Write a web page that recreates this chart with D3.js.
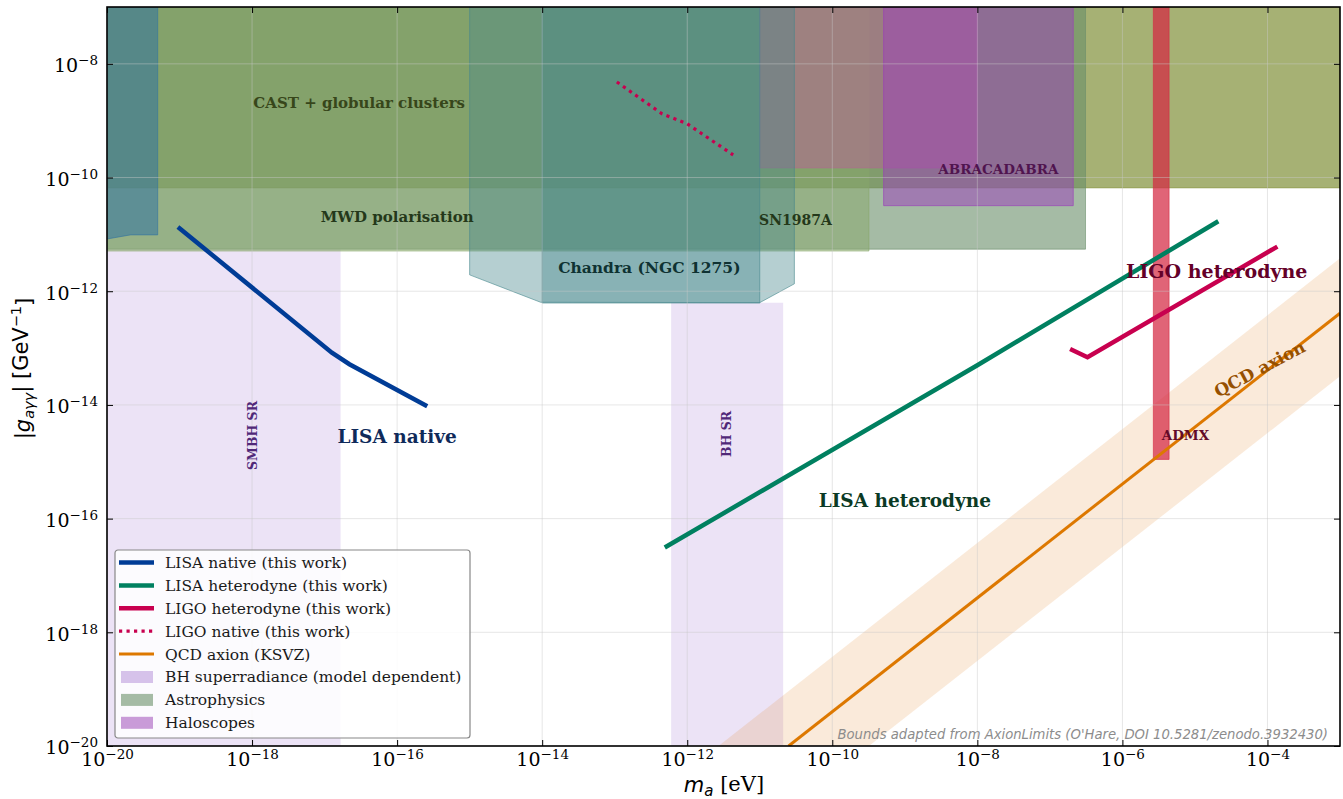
<!DOCTYPE html>
<html>
<head>
<meta charset="utf-8">
<script src="https://cdn.jsdelivr.net/npm/d3@7"></script>
<style>
  body { margin: 0; background: #fff; }
  svg { display: block; }
  .axis text { font-family: 'DejaVu Serif', serif; font-size: 19px; fill: #000; }
  .axis line { stroke: #000; }
  .axis-title { font-family: 'DejaVu Sans', sans-serif; font-size: 21px; fill: #000; }
  .note { font-family: 'DejaVu Serif', serif; font-weight: bold; }
  .legend-text { font-family: 'DejaVu Serif', serif; font-size: 15.5px; fill: #1a1a1a; }
  .credit { font-family: 'DejaVu Sans', sans-serif; font-style: italic; font-size: 13.2px; fill: #8c8c8c; }
</style>
</head>
<body>
<svg id="chart"></svg>
<script>
// x: axion mass m_a [eV], y: coupling |g_agg| [GeV^-1]
const xTicks = [1e-20, 1e-18, 1e-16, 1e-14, 1e-12, 1e-10, 1e-8, 1e-6, 1e-4]
const yTicks = [1e-20, 1e-18, 1e-16, 1e-14, 1e-12, 1e-10, 1e-8]

// projected reach (this work), [m, g]
const lisaNative = [[9.5e-20, 1.35e-11], [1.26e-17, 8.3e-14], [2.2e-17, 5.2e-14], [2.6e-16, 9.5e-15]]
const lisaHeterodyne = [[4.9e-13, 3.1e-17], [1e-8, 5e-14], [2.1e-5, 1.7e-11]]
const ligoHeterodyne = [[1.9e-7, 9.6e-14], [3.3e-7, 6.9e-14], [1.37e-4, 6.1e-12]]
const ligoNative = [[1.07e-13, 4.8e-9], [4.5e-13, 1.32e-9], [1e-12, 8.8e-10], [4.3e-12, 2.5e-10]]

// QCD axion (KSVZ) line and band edges
const qcdLine = [[2.5e-11, 1e-20], [1e-3, 4.1e-13]]
const qcdBandUpper = [[2.7e-12, 1e-20], [1e-3, 3.8e-12]]
const qcdBandLower = [[3.2e-10, 1e-20], [1e-3, 3.2e-14]]

// existing bounds, corners as [m, g]
const smbhSR = [[1e-20, 1e-20], [1.66e-17, 1e-20], [1.66e-17, 5.4e-12], [1e-20, 5.4e-12]]
const bhSR = [[6e-13, 1e-20], [2.1e-11, 1e-20], [2.1e-11, 6.3e-13], [6e-13, 6.3e-13]]
const castHB = [[1e-20, 6.6e-11], [1e-3, 6.6e-11], [1e-3, 1e-7], [1e-20, 1e-7]]
const mwdPolarisation = [[1e-20, 5.5e-12], [3.1e-7, 5.5e-12], [3.1e-7, 1e-7], [1e-20, 1e-7]]
const sn1987a = [[1e-20, 5.1e-12], [3.2e-10, 5.1e-12], [3.2e-10, 1e-7], [1e-20, 1e-7]]
const haloscopeBox = [[1e-11, 1.48e-10], [1e-8, 1.48e-10], [1e-8, 1e-7], [1e-11, 1e-7]]
const chandraWide = [[1e-15, 1e-7], [1e-15, 1.94e-12], [9.5e-15, 6.4e-13], [1e-11, 6.3e-13], [3e-11, 1.35e-12], [3e-11, 1e-7]]
const chandraNGC1275 = [[1e-14, 6.2e-13], [1e-11, 6.2e-13], [1e-11, 1e-7], [1e-14, 1e-7]]
const lowMassStrip = [[1e-20, 8.3e-12], [2.1e-20, 9.8e-12], [5e-20, 9.8e-12], [5e-20, 1e-7], [1e-20, 1e-7]]
const abracadabra = [[5.1e-10, 3.2e-11], [2.1e-7, 3.2e-11], [2.1e-7, 1e-7], [5.1e-10, 1e-7]]
const admx = [[2.67e-6, 1.1e-15], [4.4e-6, 1.1e-15], [4.4e-6, 1e-7], [2.67e-6, 1e-7]]

const legendLabels = ['LISA native (this work)', 'LISA heterodyne (this work)', 'LIGO heterodyne (this work)',
  'LIGO native (this work)', 'QCD axion (KSVZ)', 'BH superradiance (model dependent)', 'Astrophysics', 'Haloscopes']

class AxionPlot {

  constructor(_config) {
    this.config = {
      parentElement: _config.parentElement,
      containerWidth: _config.containerWidth || 1343,
      containerHeight: _config.containerHeight || 799,
      margin: _config.margin || {top: 7, right: 3, bottom: 53, left: 107}
    }
    this.initVis()
  }

  initVis() {
    let vis = this

    vis.width = vis.config.containerWidth - vis.config.margin.left - vis.config.margin.right
    vis.height = vis.config.containerHeight - vis.config.margin.top - vis.config.margin.bottom

    vis.xScale = d3.scaleLog()
      .domain([1e-20, 1e-3])
      .range([0, vis.width])

    vis.yScale = d3.scaleLog()
      .domain([1e-20, 1e-7])
      .range([vis.height, 0])

    vis.line = d3.line()
      .x(d => vis.xScale(d[0]))
      .y(d => vis.yScale(d[1]))

    vis.svg = d3.select(vis.config.parentElement)
      .attr('width', vis.config.containerWidth)
      .attr('height', vis.config.containerHeight)

    vis.chart = vis.svg.append('g')
      .attr('transform', `translate(${vis.config.margin.left},${vis.config.margin.top})`)

    vis.chart.append('clipPath')
      .attr('id', 'plot-clip')
      .append('rect')
      .attr('width', vis.width)
      .attr('height', vis.height)

    vis.regionG = vis.chart.append('g').attr('clip-path', 'url(#plot-clip)')
    vis.gridG = vis.chart.append('g')
    vis.lineG = vis.chart.append('g').attr('clip-path', 'url(#plot-clip)')
    vis.noteG = vis.chart.append('g')

    vis.xAxisG = vis.chart.append('g').attr('class', 'axis x-axis')
      .attr('transform', `translate(0,${vis.height})`)
    vis.yAxisG = vis.chart.append('g').attr('class', 'axis y-axis')
    vis.topAxisG = vis.chart.append('g').attr('class', 'axis')
    vis.rightAxisG = vis.chart.append('g').attr('class', 'axis')
      .attr('transform', `translate(${vis.width},0)`)
  }

  renderVis() {
    let vis = this

    // draw order matters, the fills are see-through
    const regions = [
      {pts: smbhSR, fill: '#c8aee6', op: 0.35, edge: false},
      {pts: bhSR, fill: '#c8aee6', op: 0.35, edge: false},
      {pts: qcdBandUpper.concat(qcdBandLower.slice().reverse()), fill: '#e68c32', op: 0.18, edge: false},
      {pts: castHB, fill: '#6b7d17', op: 0.6, edge: true},
      {pts: mwdPolarisation, fill: '#698e69', op: 0.6, edge: true},
      {pts: sn1987a, fill: '#87a769', op: 0.5, edge: true},
      {pts: haloscopeBox, fill: '#b86096', op: 0.5, edge: true},
      {pts: chandraWide, fill: '#46878c', op: 0.4, edge: true},
      {pts: chandraNGC1275, fill: '#46878c', op: 0.4, edge: true},
      {pts: lowMassStrip, fill: '#3273a0', op: 0.55, edge: true},
      {pts: abracadabra, fill: '#9b3dbb', op: 0.5, edge: true},
      {pts: admx, fill: '#d42843', op: 0.72, edge: true}
    ]

    vis.regionG.selectAll('.region')
      .data(regions)
      .join('path')
        .attr('class', 'region')
        .attr('d', d => vis.line(d.pts) + 'Z')
        .attr('fill', d => d.fill)
        .attr('fill-opacity', d => d.op)
        .attr('stroke', d => d.edge ? d.fill : 'none')
        .attr('stroke-opacity', 0.6)
        .attr('stroke-width', 1)

    // grid sits above the fills
    vis.gridG.selectAll('.vgrid')
      .data(xTicks)
      .join('line')
        .attr('class', 'vgrid')
        .attr('x1', d => vis.xScale(d))
        .attr('x2', d => vis.xScale(d))
        .attr('y1', 0)
        .attr('y2', vis.height)
    vis.gridG.selectAll('.hgrid')
      .data(yTicks)
      .join('line')
        .attr('class', 'hgrid')
        .attr('y1', d => vis.yScale(d))
        .attr('y2', d => vis.yScale(d))
        .attr('x1', 0)
        .attr('x2', vis.width)
    vis.gridG.selectAll('line')
      .attr('stroke', '#c8c8c8')
      .attr('stroke-opacity', 0.45)
      .attr('stroke-width', 1)

    const curves = [
      {pts: qcdLine, color: '#dd7800', w: 3, dash: null},
      {pts: lisaNative, color: '#003c96', w: 4.5, dash: null},
      {pts: lisaHeterodyne, color: '#008060', w: 4.5, dash: null},
      {pts: ligoHeterodyne, color: '#c8004f', w: 4.5, dash: null},
      {pts: ligoNative, color: '#c8004f', w: 3.2, dash: '3.2,4.3'}
    ]

    vis.lineG.selectAll('.curve')
      .data(curves)
      .join('path')
        .attr('class', 'curve')
        .attr('d', d => vis.line(d.pts))
        .attr('fill', 'none')
        .attr('stroke', d => d.color)
        .attr('stroke-width', d => d.w)
        .attr('stroke-dasharray', d => d.dash)

    const notes = [
      {text: 'CAST + globular clusters', at: [3e-17, 2.07e-9], size: 15, color: '#37461a'},
      {text: 'MWD polarisation', at: [1e-16, 2.04e-11], size: 15, color: '#24381a'},
      {text: 'SN1987A', at: [3.1e-11, 1.8e-11], size: 14, color: '#24381a'},
      {text: 'Chandra (NGC 1275)', at: [3e-13, 2.6e-12], size: 15.5, color: '#0f3232'},
      {text: 'ABRACADABRA', at: [1.95e-8, 1.42e-10], size: 13.5, color: '#50144f'},
      {text: 'SMBH SR', at: [1e-18, 2.9e-15], size: 12.5, color: '#502878', rotate: -90},
      {text: 'BH SR', at: [3.5e-12, 3.1e-15], size: 12.5, color: '#502878', rotate: -90},
      {text: 'LISA native', at: [1e-16, 2.8e-15], size: 18.5, color: '#0f2a5a'},
      {text: 'LISA heterodyne', at: [1e-9, 2.1e-16], size: 18.5, color: '#0b3a25'},
      {text: 'LIGO heterodyne', at: [2e-5, 2.3e-12], size: 19, color: '#640028'},
      {text: 'QCD axion', at: [7.8e-5, 4.3e-14], size: 17, color: '#965000', rotate: -28},
      {text: 'ADMX', at: [7.4e-6, 3e-15], size: 13.5, color: '#640a28'}
    ]

    vis.noteG.selectAll('.note')
      .data(notes)
      .join('text')
        .attr('class', 'note')
        .attr('text-anchor', 'middle')
        .attr('dominant-baseline', 'central')
        .attr('font-size', d => d.size)
        .attr('fill', d => d.color)
        .attr('transform', d => `translate(${vis.xScale(d.at[0])},${vis.yScale(d.at[1])}) rotate(${d.rotate || 0})`)
        .text(d => d.text)

    // axes, ticks pointing inwards on all four sides
    const powLabel = function (d) {
      const t = d3.select(this)
      t.text(null)
      t.append('tspan').text('10')
      t.append('tspan')
        .attr('dy', '-0.52em')
        .attr('font-size', '13.5px')
        .text('\u2212' + Math.abs(Math.round(Math.log10(d))))
    }

    vis.xAxis = d3.axisBottom(vis.xScale).tickValues(xTicks).tickSizeInner(-6).tickSizeOuter(0).tickPadding(7)
    vis.yAxis = d3.axisLeft(vis.yScale).tickValues(yTicks).tickSizeInner(-6).tickSizeOuter(0).tickPadding(9)

    vis.xAxisG.call(vis.xAxis)
      .call(g => g.select('.domain').remove())
    vis.xAxisG.selectAll('.tick text').each(powLabel)

    vis.yAxisG.call(vis.yAxis)
      .call(g => g.select('.domain').remove())
    vis.yAxisG.selectAll('.tick text').attr('dy', '0.42em').each(powLabel)

    vis.topAxisG.call(d3.axisTop(vis.xScale).tickValues(xTicks).tickSizeInner(-6).tickSizeOuter(0).tickFormat(''))
      .call(g => g.select('.domain').remove())
    vis.rightAxisG.call(d3.axisRight(vis.yScale).tickValues(yTicks).tickSizeInner(-6).tickSizeOuter(0).tickFormat(''))
      .call(g => g.select('.domain').remove())

    vis.chart.append('rect')
      .attr('width', vis.width)
      .attr('height', vis.height)
      .attr('fill', 'none')
      .attr('stroke', '#000')
      .attr('stroke-width', 1.6)

    // axis titles
    const xt = vis.chart.append('text')
      .attr('class', 'axis-title')
      .attr('x', 617)
      .attr('y', vis.height + 46)
      .attr('text-anchor', 'middle')
    xt.append('tspan').attr('font-style', 'italic').text('m')
    xt.append('tspan').attr('font-style', 'italic').attr('font-size', '15px').attr('dy', '0.25em').text('a')
    xt.append('tspan').attr('dy', '-0.25em').attr('font-family', 'DejaVu Serif, serif').text(' [eV]')

    const yt = vis.chart.append('text')
      .attr('class', 'axis-title')
      .attr('font-size', '20px')
      .attr('transform', `translate(-77,${vis.height / 2 - 8}) rotate(-90)`)
      .attr('text-anchor', 'middle')
    yt.append('tspan').text('|')
    yt.append('tspan').attr('font-style', 'italic').text('g')
    yt.append('tspan').attr('font-style', 'italic').attr('font-size', '14.5px').attr('dy', '0.3em').text('a\u03b3\u03b3')
    yt.append('tspan').attr('dy', '-0.3em').text('| [GeV')
    yt.append('tspan').attr('font-size', '14.5px').attr('dy', '-0.5em').text('\u22121')
    yt.append('tspan').attr('dy', '0.5em').text(']')

    vis.chart.append('text')
      .attr('class', 'credit')
      .attr('x', vis.width - 12)
      .attr('y', vis.height - 7)
      .attr('text-anchor', 'end')
      .text("Bounds adapted from AxionLimits (O'Hare, DOI 10.5281/zenodo.3932430)")

    vis.renderLegend()
  }

  renderLegend() {
    let vis = this

    const handles = [
      {kind: 'line', color: '#003c96', w: 4.5},
      {kind: 'line', color: '#008060', w: 4.5},
      {kind: 'line', color: '#c8004f', w: 4.5},
      {kind: 'line', color: '#c8004f', w: 3.2, dash: '3.2,4.3'},
      {kind: 'line', color: '#dd7800', w: 3},
      {kind: 'patch', color: '#d6c2ea'},
      {kind: 'patch', color: '#a5bba5'},
      {kind: 'patch', color: '#c99bd8'}
    ]

    const lg = vis.chart.append('g')
      .attr('transform', 'translate(8,543)')

    lg.append('rect')
      .attr('width', 355)
      .attr('height', 188)
      .attr('rx', 3)
      .attr('fill', '#fff')
      .attr('fill-opacity', 0.85)
      .attr('stroke', '#888')
      .attr('stroke-width', 1.2)

    const rows = lg.selectAll('.legend-row')
      .data(legendLabels)
      .join('g')
        .attr('class', 'legend-row')
        .attr('transform', (d, i) => `translate(0,${12.5 + i * 22.9})`)

    rows.each(function (d, i) {
      const row = d3.select(this)
      const h = handles[i]
      if (h.kind === 'line') {
        row.append('line')
          .attr('x1', 4).attr('x2', 39)
          .attr('stroke', h.color)
          .attr('stroke-width', h.w)
          .attr('stroke-dasharray', h.dash || null)
      } else {
        row.append('rect')
          .attr('x', 6).attr('y', -6)
          .attr('width', 32).attr('height', 12)
          .attr('fill', h.color)
      }
      row.append('text')
        .attr('class', 'legend-text')
        .attr('x', 50)
        .attr('dy', '0.35em')
        .text(d)
    })
  }
}

const plot = new AxionPlot({parentElement: '#chart'})
plot.renderVis()
</script>
</body>
</html>
